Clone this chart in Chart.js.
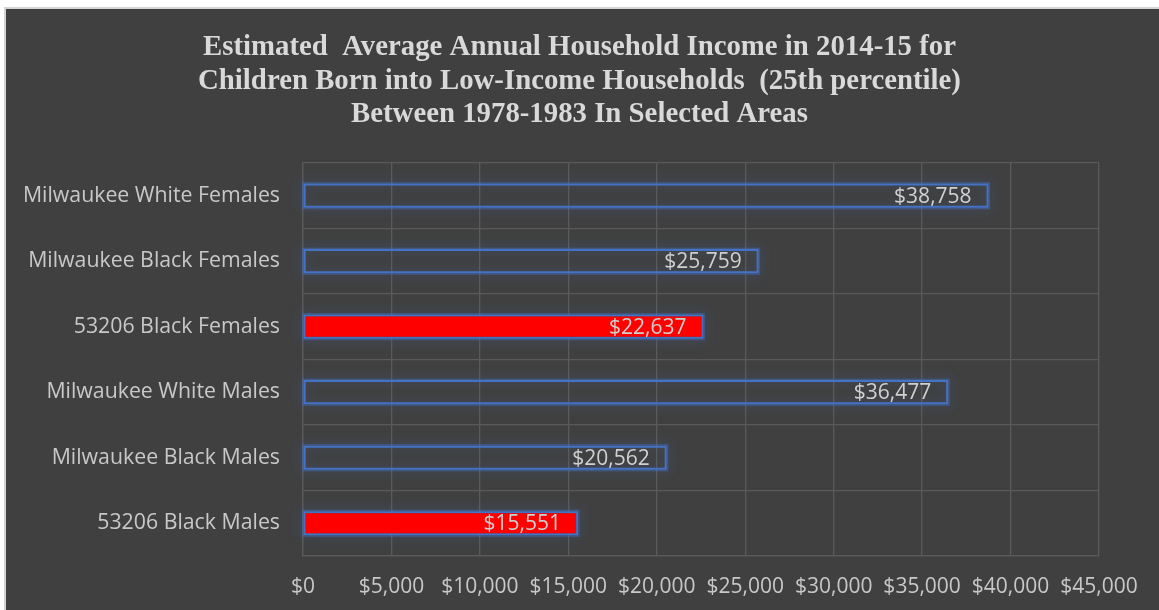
<!DOCTYPE html>
<html>
<head>
<meta charset="utf-8">
<script src="https://cdn.jsdelivr.net/npm/chart.js@4/dist/chart.umd.min.js"></script>
<style>
  html, body { margin: 0; padding: 0; background: #ffffff; width: 1159px; height: 610px; overflow: hidden; }
  #frame { position: absolute; left: 4px; top: 7px; border-left: 2px solid #d4d4d4; border-top: 2px solid #d4d4d4; width: 1153px; height: 601px; background: #404040; }
  canvas { display: block; }
</style>
</head>
<body>
<div id="frame"><canvas id="c" width="1153" height="601"></canvas></div>
<script>
const titleLines = [
  "Estimated  Average Annual Household Income in 2014-15 for",
  "Children Born into Low-Income Households  (25th percentile)",
  "Between 1978-1983 In Selected Areas"
];
const categories = [
  "Milwaukee White Females",
  "Milwaukee Black Females",
  "53206 Black Females",
  "Milwaukee White Males",
  "Milwaukee Black Males",
  "53206 Black Males"
];
const incomes = [38758, 25759, 22637, 36477, 20562, 15551];
const xTickValues = [0, 5000, 10000, 15000, 20000, 25000, 30000, 35000, 40000, 45000];

const fmt = v => "$" + Number(v).toLocaleString("en-US");

// centre the title over the whole canvas (not only the padded layout area)
const centreTitle = {
  id: "centreTitle",
  afterLayout(chart) {
    if (chart.titleBlock) {
      chart.titleBlock.left = 0;
      chart.titleBlock.right = chart.width - 6;
    }
  }
};

const glowPlugin = {
  id: "glow",
  beforeDatasetsDraw(chart) {
    const ctx = chart.ctx;
    chart.getSortedVisibleDatasetMetas().forEach(meta => {
      meta.data.forEach(bar => {
        const p = bar.getProps(["x", "y", "base", "height"], true);
        const left = Math.min(p.base, p.x), right = Math.max(p.base, p.x);
        const top = p.y - p.height / 2;
        ctx.save();
        ctx.shadowColor = "rgba(68,114,196,0.9)";
        ctx.shadowBlur = 12;
        ctx.strokeStyle = "rgba(68,114,196,0.45)";
        ctx.lineWidth = 3;
        ctx.strokeRect(left, top, right - left, p.height);
        ctx.restore();
      });
    });
  }
};

const labelPlugin = {
  id: "valueLabels",
  afterDatasetsDraw(chart) {
    const ctx = chart.ctx;
    chart.getSortedVisibleDatasetMetas().forEach(meta => {
      const ds = chart.data.datasets[meta.index];
      meta.data.forEach((bar, i) => {
        const p = bar.getProps(["x", "y"], true);
        ctx.save();
        ctx.font = "21px 'Open Sans'";
        ctx.fillStyle = "#d0d0d0";
        ctx.textAlign = "right";
        ctx.textBaseline = "middle";
        ctx.fillText(fmt(ds.data[i]), p.x - 17, p.y + 1);
        ctx.restore();
      });
    });
  }
};

new Chart(document.getElementById("c"), {
  type: "bar",
  data: {
    labels: categories,
    datasets: [{
      data: incomes,
      backgroundColor: c => categories[c.dataIndex].startsWith("53206") ? "#ff0000" : "rgba(0,0,0,0)",
      borderColor: "#4472c4",
      borderWidth: 2,
      borderSkipped: false,
      categoryPercentage: 1,
      barPercentage: 0.37
    }]
  },
  options: {
    indexAxis: "y",
    responsive: false,
    animation: false,
    events: [],
    layout: { padding: { left: 0, right: 60, top: 0, bottom: 0 } },
    plugins: {
      legend: { display: false },
      tooltip: { enabled: false },
      title: {
        display: true,
        text: titleLines,
        color: "#d9d9d9",
        font: { family: "'Liberation Serif', 'Times New Roman', serif", size: 28.8, weight: "bold", lineHeight: 1.163 },
        padding: { top: 22, bottom: 31.5 }
      }
    },
    scales: {
      x: {
        min: 0,
        max: 45000,
        afterBuildTicks: s => { s.ticks = xTickValues.map(v => ({ value: v })); },
        afterFit: s => { s.height = 54; },
        grid: { color: "#5a5a5a", lineWidth: 1.3, drawTicks: false },
        border: { color: "#5a5a5a", width: 1.3 },
        ticks: { color: "#c8c8c8", font: { family: "'Open Sans'", size: 21 }, padding: 18, maxRotation: 0, autoSkip: false, callback: v => fmt(v) }
      },
      y: {
        afterFit: s => { s.width = 297; },
        grid: { color: "#5a5a5a", lineWidth: 1.3, drawTicks: false },
        border: { color: "#5a5a5a", width: 1.3 },
        ticks: { color: "#c8c8c8", font: { family: "'Open Sans'", size: 21.3 }, padding: 23, autoSkip: false }
      }
    }
  },
  plugins: [centreTitle, glowPlugin, labelPlugin]
});
</script>
</body>
</html>
